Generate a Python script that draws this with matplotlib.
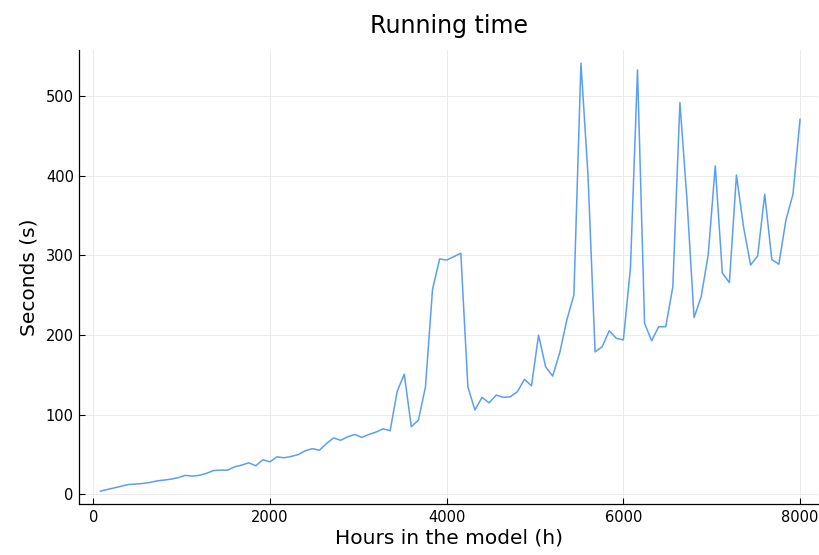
import numpy as np
import matplotlib
matplotlib.use("Agg")
import matplotlib.pyplot as plt

hours = list(range(80, 8001, 80))
seconds = [
    4, 6.3, 8.3, 10.4, 12.5, 13, 13.8, 15, 17, 18,
    19.2, 21, 24, 23, 24, 26.4, 30, 30.5, 30.5, 34.7,
    36.8, 39.7, 36, 43.5, 41, 47.2, 46, 47.7, 50, 54.8,
    57.5, 55.5, 64, 71, 68, 72.4, 75.3, 71.6, 75.3, 78.3,
    82.4, 80, 129.5, 151, 85, 93.3, 135, 257.5, 295.6, 294.3,
    298.5, 302.8, 135, 106, 121.9, 115, 124.7, 121.9, 122.6, 128.9,
    144.5, 136.4, 200, 160.3, 148.6, 178, 219, 250.4, 541.5, 400,
    179, 185.4, 205.5, 196, 194, 284, 533, 214.8, 193, 210.6,
    210.6, 260.8, 492, 370, 222, 248, 300.6, 412.4, 278, 266,
    401, 336, 288, 299.4, 377, 295, 289, 344.6, 377, 471,
]
title = "Running time"
xlabel = "Hours in the model (h)"
ylabel = "Seconds (s)"

fig = plt.figure(figsize=(8.2, 5.55), dpi=100)
ax = fig.add_axes([79.4 / 820, 51 / 555, (818 - 79.4) / 820, 454 / 555])
ax.plot(hours, seconds, color="#5A9EF7", linewidth=1.1)
ax.set_xlim(-157, 8203)
ax.set_ylim(-12, 558)
ax.set_xticks([0, 2000, 4000, 6000, 8000])
ax.set_yticks([0, 100, 200, 300, 400, 500])
ax.grid(True, color="#ebebeb", linewidth=0.7)
ax.set_axisbelow(True)
for s in ["top", "right"]:
    ax.spines[s].set_visible(False)
for s in ["left", "bottom"]:
    ax.spines[s].set_color("black")
    ax.spines[s].set_linewidth(0.9)
ax.tick_params(direction="in", length=4.5, width=0.8, labelsize=10.5, pad=4)
ax.set_title(title, fontsize=17, pad=12)
ax.set_xlabel(xlabel, fontsize=14.5, labelpad=3)
ax.set_ylabel(ylabel, fontsize=14.5, labelpad=5)
fig.savefig("out.png", dpi=100)
